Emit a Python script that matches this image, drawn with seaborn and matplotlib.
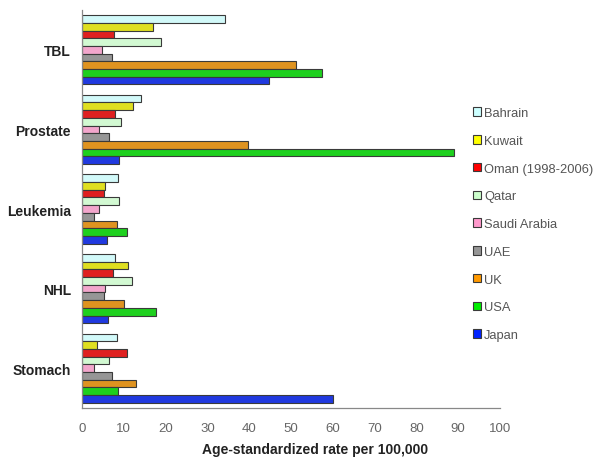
import matplotlib
matplotlib.use("Agg")
import matplotlib.pyplot as plt
from matplotlib.patches import Patch
import seaborn as sns
import pandas as pd

cancers = ["TBL", "Prostate", "Leukemia", "NHL", "Stomach"]
countries = ["Bahrain", "Kuwait", "Oman (1998-2006)", "Qatar", "Saudi Arabia",
             "UAE", "UK", "USA", "Japan"]

bahrain = [34.2, 14.1, 8.7, 7.9, 8.4]
kuwait = [16.9, 12.1, 5.6, 10.9, 3.7]
oman = [7.7, 8.0, 5.2, 7.5, 10.8]
qatar = [18.9, 9.3, 8.9, 11.9, 6.5]
saudi_arabia = [4.9, 4.1, 4.1, 5.6, 2.8]
uae = [7.1, 6.4, 2.8, 5.2, 7.1]
uk = [51.3, 39.6, 8.4, 10.1, 12.9]
usa = [57.3, 89.1, 10.8, 17.7, 8.7]
japan = [44.7, 8.9, 6.1, 6.2, 60.1]

colors = ["#ccffff", "#ffff00", "#ff0000", "#ccffcc", "#ff99cc",
          "#969696", "#ff9900", "#00ee00", "#0022ff"]

series = [bahrain, kuwait, oman, qatar, saudi_arabia, uae, uk, usa, japan]
rows = []
for country, vals in zip(countries, series):
    for cancer, v in zip(cancers, vals):
        rows.append({"cancer": cancer, "country": country, "rate": v})
df = pd.DataFrame(rows)

sns.set_style("white")
plt.rcParams["font.family"] = ["Liberation Sans", "DejaVu Sans"]

fig = plt.figure(figsize=(5.97, 4.60), dpi=100)
ax = fig.add_axes([82 / 597, 1 - 409 / 460, 418 / 597, 398 / 460])

sns.barplot(data=df, y="cancer", x="rate", hue="country", order=cancers,
            hue_order=countries, palette=colors, orient="h", width=0.87,
            edgecolor="#3a3a3a", linewidth=0.8, ax=ax, legend=False)

ax.set_xlim(0, 100)
ax.set_ylim(4.5, -0.5)
ax.set_xticks(range(0, 101, 10))
ax.set_yticks(range(len(cancers)))
ax.set_yticklabels(cancers, fontsize=10, fontweight="bold", color="#222222")
ax.set_yticks([i - 0.5 for i in range(len(cancers) + 1)], minor=True)
ax.tick_params(axis="y", which="major", length=0, pad=8)
ax.tick_params(axis="y", which="minor", length=3, color="#888888", width=0.8)
ax.tick_params(axis="x", length=4, color="#888888", width=0.8,
               labelsize=9.5, labelcolor="#666666", pad=6)

for side in ("top", "right"):
    ax.spines[side].set_visible(False)
for side in ("left", "bottom"):
    ax.spines[side].set_color("#888888")
    ax.spines[side].set_linewidth(0.9)

ax.set_ylabel("")
ax.set_xlabel("Age-standardized rate per 100,000", fontsize=10, fontweight="bold",
              color="#222222")
ax.xaxis.set_label_coords((315 - 82) / 418, -0.085)

handles = [Patch(facecolor=c, edgecolor="#3a3a3a", linewidth=0.8, label=n)
           for c, n in zip(colors, countries)]
leg = fig.legend(handles=handles, loc="upper left", bbox_to_anchor=(468 / 597, 1 - 103 / 460),
                 frameon=False, fontsize=9.3, handlelength=0.6, handleheight=0.65,
                 handletextpad=0.25, labelspacing=1.22, borderaxespad=0)
for t in leg.get_texts():
    t.set_color("#555555")

fig.savefig("out.png", dpi=100)
